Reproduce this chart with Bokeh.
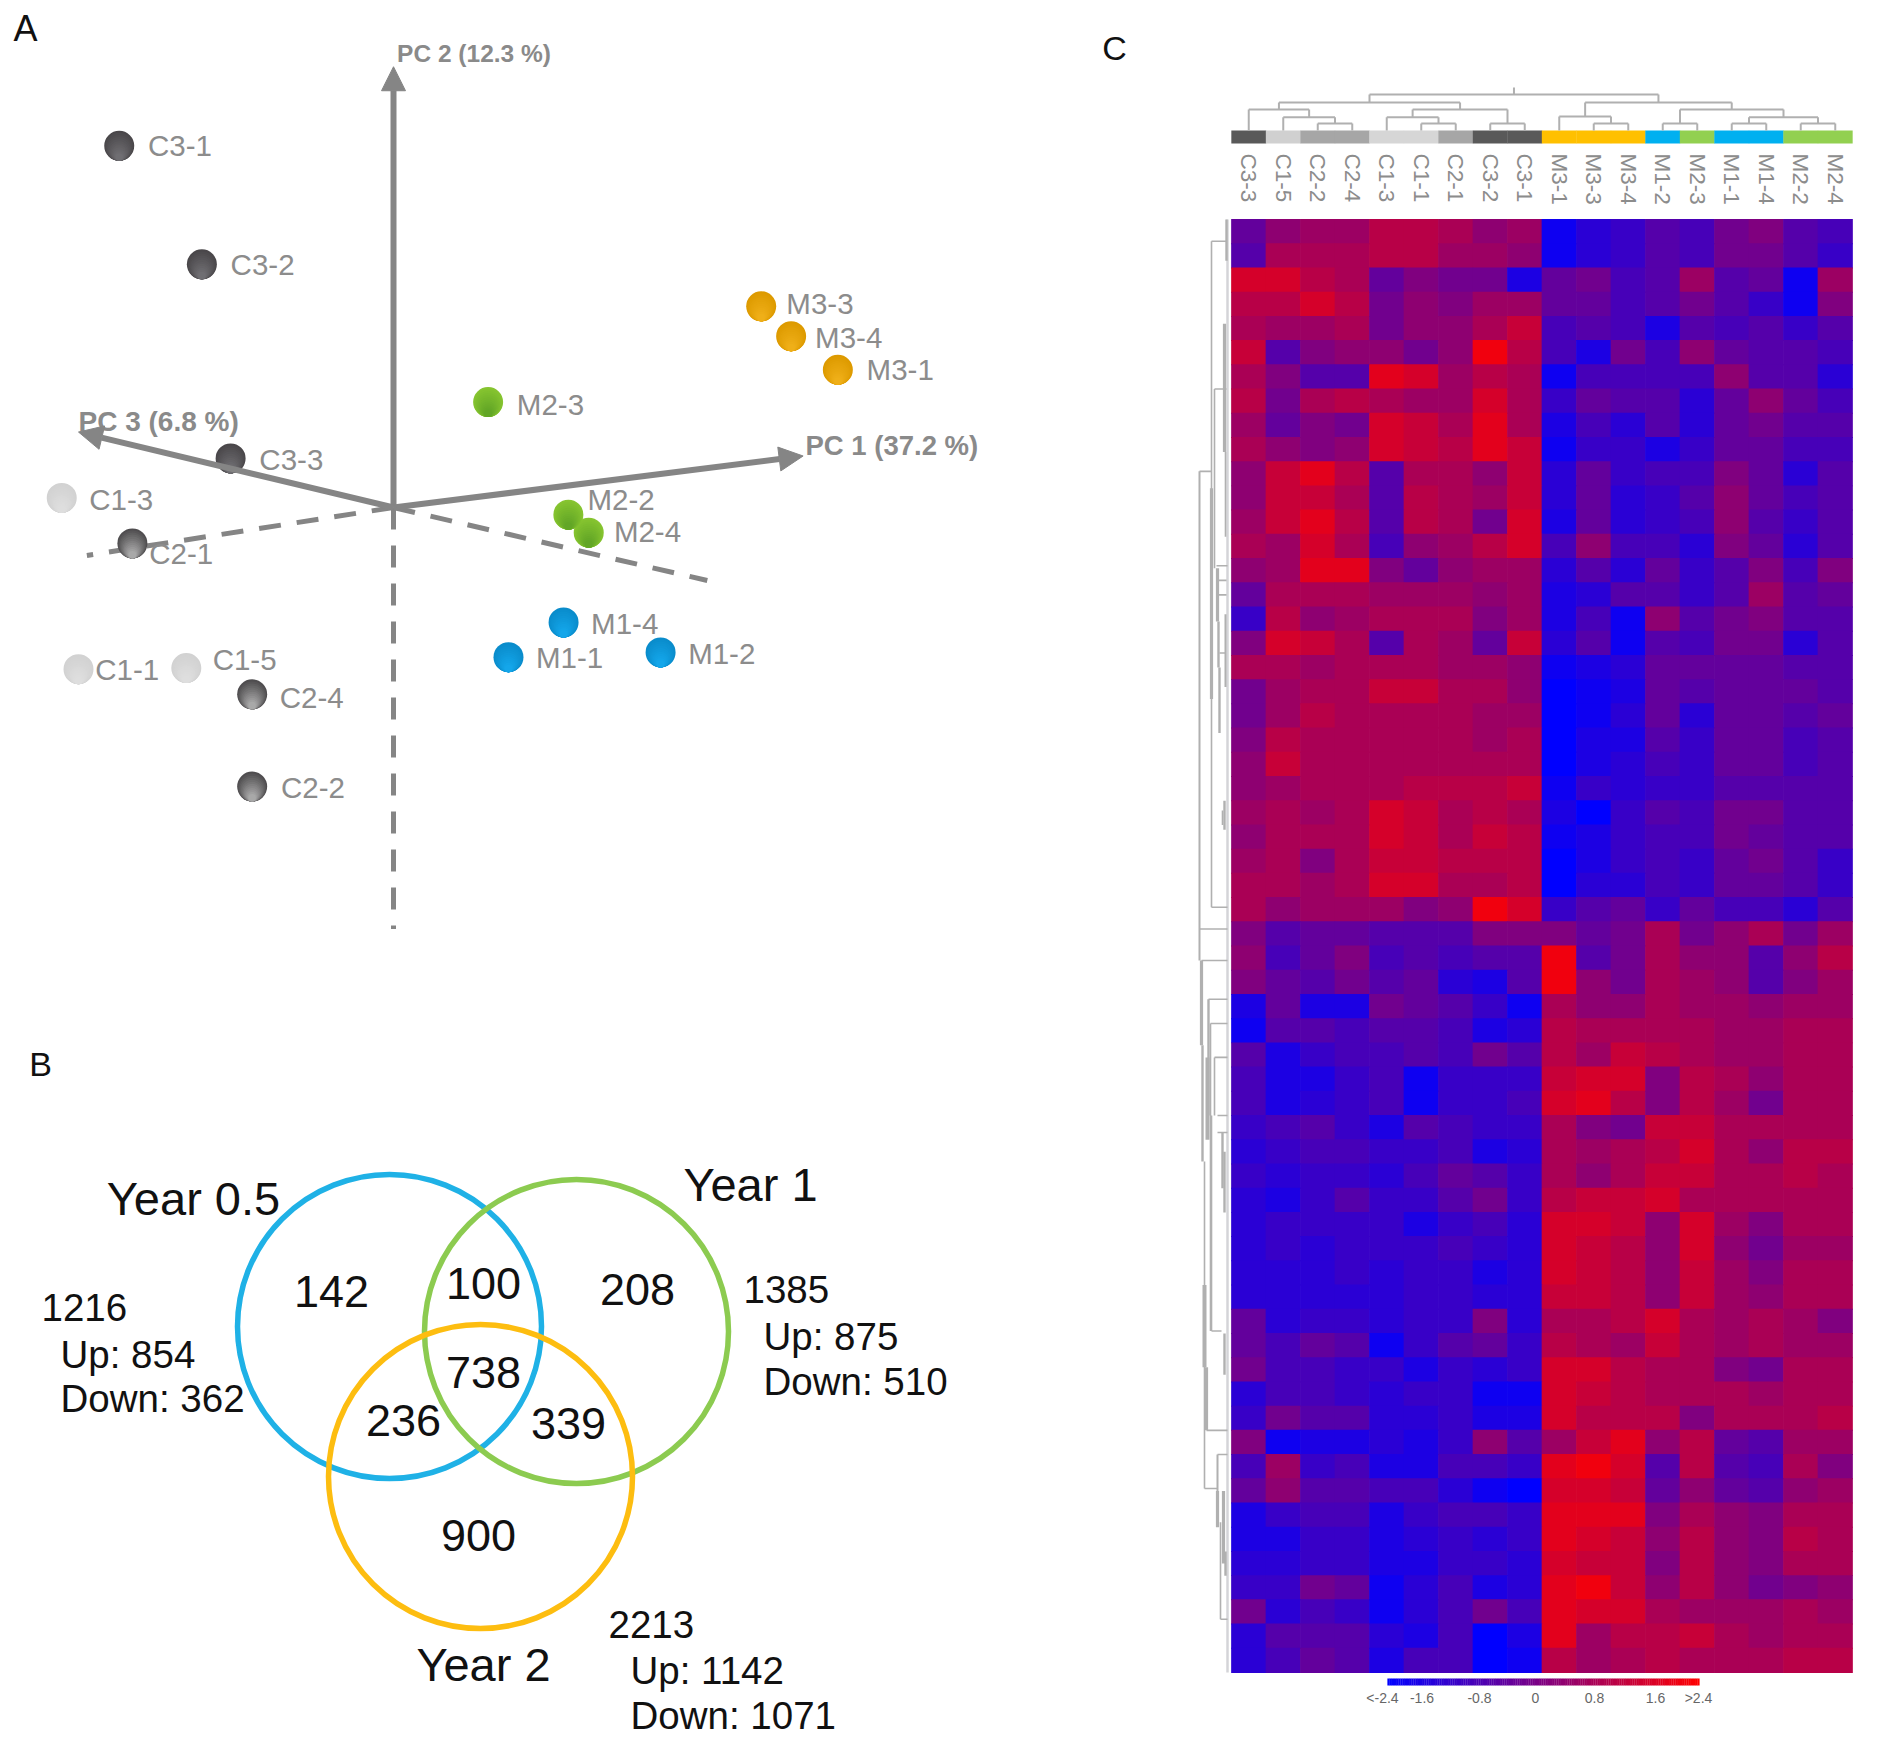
from math import pi
from bokeh.core.properties import value
from bokeh.embed import file_html
from bokeh.layouts import column, row
from bokeh.models import Arrow, ColumnDataSource, LinearColorMapper, NormalHead, Range1d
from bokeh.plotting import figure
from bokeh.resources import INLINE
from bokeh.transform import transform

FONT = value("Liberation Sans")

# ---------- panel A data ----------
pca_names = ["C3-1","C3-2","M3-3","M3-4","M3-1","M2-3","C3-3","C1-3","C2-1","M2-2","M2-4","M1-4","M1-1","M1-2","C1-1","C1-5","C2-4","C2-2"]
pca_x = [-22.9,-16.0,30.7,33.2,37.1,7.9,-13.6,-27.7,-21.8,14.6,16.3,14.2,9.6,22.3,-26.3,-17.3,-11.8,-11.8]
pca_y = [30.2,20.3,16.8,14.3,11.5,8.8,4.1,0.8,-3.0,-0.6,-2.1,-9.6,-12.5,-12.1,-13.5,-13.4,-15.6,-23.3]
pca_label_x = [-20.5,-13.6,32.8,35.2,39.5,10.3,-11.2,-25.4,-20.4,16.2,18.4,16.5,11.9,24.6,-24.9,-15.1,-9.5,-9.4]
pca_label_y = [30.2,20.3,17.0,14.2,11.5,8.6,4.0,0.7,-3.8,0.7,-2.0,-9.7,-12.5,-12.2,-13.5,-12.7,-15.9,-23.4]
axis_names = ["PC 1 (37.2 %)","PC 2 (12.3 %)","PC 3 (6.8 %)"]
axis_tip_x = [34.2,0.0,-26.3]
axis_tip_y = [4.3,36.8,6.3]
axis_label_x = [34.4,0.3,-26.3]
axis_label_y = [5.2,37.9,7.2]
axis_back_x = [-25.6,0.0,26.2]
axis_back_y = [-4.0,-35.2,-6.1]
sphere_top = {"C3":"#4a474a","C2":"#4f4d4f","C1":"#d2d2d2","M3":"#dd9a00","M2":"#86c430","M1":"#0a8ccb"}
sphere_bottom = {"C3":"#6f6e72","C2":"#a8a8a8","C1":"#dedede","M3":"#efaf18","M2":"#62a626","M1":"#14a6ea"}

# ---------- panel B data ----------
venn_names = ["Year 0.5","Year 1","Year 2"]
venn_colors = ["#1fb1e6","#8ccb50","#fdbd10"]
venn_counts = ["142","100","208","738","236","339","900"]
venn_notes = ["1216","Up: 854","Down: 362","1385","Up: 875","Down: 510","2213","Up: 1142","Down: 1071"]

# ---------- panel C data ----------
heat_columns = ["C3-3","C1-5","C2-2","C2-4","C1-3","C1-1","C2-1","C3-2","C3-1","M3-1","M3-3","M3-4","M1-2","M2-3","M1-1","M1-4","M2-2","M2-4"]
strip_colors = ["#595959","#d0d0d0","#a6a6a6","#a6a6a6","#d6d6d6","#d6d6d6","#a6a6a6","#595959","#595959","#ffc000","#ffc000","#ffc000","#00b0f0","#92d050","#00b0f0","#00b0f0","#92d050","#92d050"]
heat_rows = [
 [-2,1,2,2,4,4,3,1,2,-8,-6,-5,-3,-4,-1,0,-3,-4],
 [-3,3,3,3,4,4,2,2,1,-8,-6,-5,-3,-4,-1,-1,-3,-5],
 [6,6,4,3,-2,0,-1,-1,-7,-2,-1,-4,-3,2,-3,-2,-8,2],
 [4,4,6,4,-1,1,0,2,2,-2,-2,-4,-3,-1,-3,-5,-8,0],
 [3,2,2,3,-1,1,1,3,5,-4,-3,-4,-7,-3,-4,-3,-5,-3],
 [5,-3,0,1,1,-1,1,8,4,-4,-7,-1,-4,1,-2,-3,-3,-4],
 [3,0,-3,-3,7,6,2,4,3,-8,-4,-4,-4,-4,1,-3,-3,-6],
 [4,-1,3,4,3,2,2,6,3,-5,-2,-3,-3,-6,-2,1,-2,-4],
 [2,-2,0,-1,6,5,3,7,3,-7,-4,-6,-3,-6,-2,-1,-3,-3],
 [3,1,0,1,6,5,4,7,5,-8,-5,-5,-7,-5,-2,-2,-4,-4],
 [1,5,7,4,-3,3,3,1,5,-6,-2,-5,-4,-4,0,-2,-6,-3],
 [1,5,5,3,-3,4,3,2,5,-6,-2,-6,-5,-3,1,-2,-4,-3],
 [2,5,7,4,-3,4,3,-1,6,-7,-2,-6,-5,-4,1,-3,-5,-3],
 [3,2,6,3,-4,1,2,4,6,-4,1,-4,-4,-6,0,-2,-6,-3],
 [1,2,7,7,0,-2,1,2,2,-6,-3,-6,-2,-5,-3,0,-4,0],
 [-2,3,3,3,2,2,2,1,2,-7,-6,-3,-3,-5,-3,2,-3,-2],
 [-5,4,1,2,3,3,3,0,2,-7,-4,-8,1,-3,-1,0,-3,-3],
 [0,6,5,3,-3,3,2,-2,5,-6,-3,-8,-3,-4,-1,-1,-6,-3],
 [3,3,2,3,3,3,2,2,1,-8,-7,-6,-2,-2,-2,-2,-3,-3],
 [-1,2,3,3,5,5,3,3,1,-9,-8,-7,-2,-3,-2,-2,-2,-3],
 [-1,2,4,3,3,3,3,2,2,-9,-8,-6,-2,-6,-2,-2,-3,-2],
 [0,4,3,3,3,3,3,2,3,-9,-7,-7,-3,-5,-2,-2,-4,-3],
 [1,5,3,3,3,3,3,3,3,-9,-7,-6,-4,-5,-2,-2,-4,-3],
 [1,2,3,3,3,4,4,4,5,-8,-5,-6,-5,-5,-3,-3,-3,-3],
 [2,3,2,3,6,5,3,4,3,-7,-9,-5,-3,-4,-1,-1,-3,-3],
 [1,3,3,3,6,5,3,5,4,-8,-7,-5,-4,-4,-1,-2,-3,-3],
 [2,3,0,3,5,5,4,4,4,-9,-7,-5,-4,-5,-2,-1,-3,-5],
 [3,3,2,3,6,6,3,3,4,-9,-6,-6,-4,-5,-2,-2,-3,-5],
 [3,1,2,2,2,0,1,8,6,-5,-3,-2,-5,-2,-4,-4,-6,-3],
 [0,-3,-2,-2,-3,-3,-3,0,0,0,-2,-1,3,-1,1,3,-1,2],
 [1,-4,-2,0,-4,-3,-4,-3,-3,8,-3,-1,3,1,1,-3,1,4],
 [0,-2,-3,-1,-3,-2,-6,-7,-3,8,1,-1,3,2,1,-3,0,2],
 [-7,-2,-7,-7,-1,-2,-3,-5,-8,3,1,1,3,2,2,1,2,2],
 [-8,-3,-3,-4,-3,-3,-4,-7,-6,4,3,3,3,3,2,2,3,3],
 [-3,-7,-5,-4,-4,-3,-4,-1,-3,4,2,5,4,3,2,2,3,3],
 [-4,-7,-7,-5,-4,-8,-5,-5,-5,5,6,6,0,4,3,1,3,3],
 [-4,-7,-6,-5,-4,-8,-5,-5,-4,6,7,4,0,4,2,-1,3,3],
 [-5,-4,-3,-5,-7,-3,-4,-5,-5,3,0,-1,5,5,3,3,3,3],
 [-6,-5,-4,-4,-5,-5,-4,-7,-6,3,2,3,4,6,3,1,4,4],
 [-5,-6,-5,-5,-6,-4,-2,-3,-5,3,1,3,5,5,3,3,4,3],
 [-6,-7,-5,-3,-5,-5,-3,-1,-5,4,5,5,6,3,3,3,3,3],
 [-6,-5,-5,-5,-5,-7,-5,-4,-6,6,6,5,1,6,2,0,3,3],
 [-6,-5,-6,-5,-5,-5,-4,-5,-6,6,5,4,1,6,1,-1,2,2],
 [-6,-6,-6,-5,-6,-5,-5,-7,-6,6,5,4,1,5,2,0,3,3],
 [-6,-6,-6,-6,-6,-5,-5,-6,-6,5,5,4,1,5,2,1,3,3],
 [-2,-6,-5,-5,-6,-5,-5,0,-6,3,3,4,6,3,2,3,2,0],
 [-2,-4,-2,-3,-8,-5,-3,-2,-5,4,3,2,5,3,2,3,2,2],
 [-1,-4,-4,-5,-5,-7,-5,-6,-5,6,6,4,3,3,0,-1,3,3],
 [-6,-4,-4,-5,-6,-5,-5,-8,-8,6,5,4,3,3,3,2,3,3],
 [-5,-1,-3,-3,-6,-6,-5,-7,-7,6,4,4,4,0,3,3,3,4],
 [0,-8,-7,-7,-6,-7,-5,1,-3,2,5,7,1,4,-2,-3,2,2],
 [-4,2,-5,-4,-7,-7,-4,-4,-5,7,8,6,-3,4,-3,-4,3,0],
 [-2,1,-3,-3,-4,-4,-6,-8,-9,6,6,5,-2,1,-2,-3,1,2],
 [-7,-5,-4,-4,-7,-5,-4,-4,-5,7,7,7,0,3,1,0,3,3],
 [-7,-7,-5,-5,-7,-6,-5,-6,-5,7,6,5,1,4,1,0,4,3],
 [-6,-6,-5,-5,-7,-7,-5,-5,-6,6,5,5,0,4,1,0,3,3],
 [-5,-5,-1,-2,-8,-6,-4,-7,-6,7,8,5,1,4,1,-1,0,1],
 [-1,-6,-4,-5,-8,-6,-4,-1,-4,7,6,6,3,2,2,2,3,2],
 [-6,-3,-3,-3,-6,-7,-4,-9,-7,7,2,4,4,5,3,2,3,3],
 [-6,-4,-2,-3,-7,-4,-4,-9,-8,4,2,3,4,3,3,3,4,4],
]
legend_labels = ["<-2.4","-1.6","-0.8","0","0.8","1.6",">2.4"]
legend_steps = [-9,-8,-7,-6,-5,-4,-3,-2,-1,0,1,2,3,4,5,6,7,8,9]

# column tree: (child, child, height)
col_merges = {
 "a":(2,3,7),"b":(1,"a",13.3),"c":(0,"b",21),"d":(5,6,7),"e":(4,"d",13.3),"f":(7,8,7),
 "g":("e","f",21),"h":("c","g",28),"i":(10,11,7),"j":(9,"i",14),"k":(12,13,7),"l":(14,15,7),
 "m":(16,17,7),"n":("l","m",13.3),"o":("k","n",21),"p":("j","o",28),"q":("h","p",36),
}
col_tree_root = 43

# row tree: vertical strokes (height, from row, to row, weight) and horizontal strokes (row, from height, to height)
row_tree_v = [
 (5,0,1.7,3),(20,0.9,28.4,2),(20,11.1,19.8,4),(17,7,14.4,2),(7,4.3,9.6,4),(6,9.6,13.1,2),
 (32,10.4,30.6,2.5),(14,14.4,16.6,4),(13,16.6,18.5,3),(12,18.5,21.2,3),(6,16.3,19.3,2.5),
 (7,24,25.2,3),(9,24.4,25,2),(30,30.6,34.1,4),(29,34.1,38.9,3),(23,32.2,37,3),(21,33.2,45.9,2),
 (17,34.6,37,2),(20,37,45.9,2),(27,38.9,52.4,2),(27,44,47.4,5),(25,47.4,50,4),(14,51,53.8,2.5),
 (11,53.8,57.8,2),(7,38.5,41,3),(9,37.7,40,3),(7,46,47.7,3),(8,52.5,55.5,4),(6,55,56,3),
 (24,34.6,38,5),(14,52.5,54,4),
]
row_tree_h = [
 (0.9,20,5),(7,17,5),(10.4,32,20),(14.3,15,4),(14.9,13,5),(15.5,13,5),(17.9,12,6),(28.4,20,4),
 (29.3,32,4),(30.6,30,4),(32.2,23,4),(33.2,21,4),(34.6,17,4),(37,14,4),(37.7,14,4),(45.9,20,10),
 (50,25,4),(51,14,4),(52.4,27,14),(57.8,11,4),
]

# ---------- helpers ----------
def make_fig(w, h, xr, yr):
    p = figure(width=w, height=h, x_range=Range1d(*xr), y_range=Range1d(*yr),
               output_backend="svg", toolbar_location=None, min_border=0)
    p.axis.visible = False
    p.grid.visible = False
    p.outline_line_color = None
    return p

def blend(c0, c1, t):
    a = [int(c0[i:i+2], 16) for i in (1, 3, 5)]
    b = [int(c1[i:i+2], 16) for i in (1, 3, 5)]
    return "#%02x%02x%02x" % tuple(round(u + (v - u) * t) for u, v in zip(a, b))

def put_text(p, xs, ys, texts, size, color, align="left", style="normal", angle=0.0):
    p.text(xs, ys, text=texts, text_font=FONT, text_font_size=f"{size}px", text_color=color,
           text_align=align, text_baseline="middle", text_font_style=style, angle=angle)

# ---------- panel A ----------
U = 11.977
OX, OY = 393, 507
pa = make_fig(1060, 1000, ((0 - OX) / U, (1060 - OX) / U), ((OY - 1000) / U, (OY - 0) / U))
GR = "#858585"
for bx, by in zip(axis_back_x, axis_back_y):
    pa.line([0, bx], [0, by], line_color=GR, line_width=5, line_dash="22 16")
for tx, ty in zip(axis_tip_x, axis_tip_y):
    pa.add_layout(Arrow(end=NormalHead(size=24, fill_color=GR, line_color=GR), x_start=0, y_start=0,
                        x_end=tx, y_end=ty, line_color=GR, line_width=6))
for ax_x, ax_y, ax_name, ax_size in zip(axis_label_x, axis_label_y, axis_names, (27.5, 24.5, 28)):
    put_text(pa, [ax_x], [ax_y], [ax_name], ax_size, "#8a8a8a", style="bold")
shade_steps = 12
for k in range(shade_steps):
    t = k / (shade_steps - 1)
    shrink = 0.75 * t
    r_units = 15 / U
    colors = [blend(sphere_top[n[:2]], sphere_bottom[n[:2]], t) for n in pca_names]
    pa.scatter(pca_x, [v - r_units * shrink for v in pca_y], size=30 * (1 - shrink), color=colors, line_color=None)
put_text(pa, pca_label_x, pca_label_y, pca_names, 29.5, "#8c8c8c")
put_text(pa, [(25 - OX) / U], [(OY - 28) / U], ["A"], 36, "#111111", align="center")

# ---------- panel B ----------
pb = make_fig(1060, 741, (0, 1060), (1741, 1000))
venn_cx, venn_cy, venn_r = [389, 576, 480], [1326, 1331, 1476], 152
pb.circle(venn_cx, venn_cy, radius=venn_r, fill_color=None, line_color=venn_colors, line_width=5.5)
put_text(pb, [193, 750, 483], [1198, 1184, 1664], venn_names, 47, "#111111", align="center")
put_text(pb, [331, 483, 637, 483, 403, 568, 478], [1291, 1283, 1289, 1372, 1420, 1423, 1535], venn_counts, 45, "#111111", align="center")
put_text(pb, [41, 60, 60, 743, 763, 763, 608, 630, 630], [1307, 1354, 1398, 1289, 1336, 1381, 1624, 1670, 1715], venn_notes, 38.5, "#111111")
put_text(pb, [40], [1063], ["B"], 34, "#111111", align="center")

# ---------- panel C ----------
L, T, CW, RH = 1231, 219, 621 / 18, 1453 / 60
cx = lambda px: (px - L) / CW
cy = lambda py: (py - T) / RH
pc = make_fig(810, 1741, (cx(1060), cx(1870)), (cy(1741), cy(0)))
mapper = LinearColorMapper(palette=[blend("#0000ff", "#ff0000", i / 255) for i in range(256)], low=-9, high=9)
hx, hy, hv = [], [], []
for i, vals in enumerate(heat_rows):
    for j, v in enumerate(vals):
        hx.append(j + 0.5); hy.append(i + 0.5); hv.append(v)
pc.rect("x", "y", width=1.02, height=1.04, source=ColumnDataSource(dict(x=hx, y=hy, v=hv)),
        fill_color=transform("v", mapper), line_color=None)

# colour strip and column names
xs = [j + 0.5 for j in range(len(heat_columns))]
strip_mid = cy(136.5)
pc.rect(xs, [strip_mid] * len(xs), width=1.01, height=13 / RH, fill_color=strip_colors, line_color=None)
put_text(pc, xs, [cy(153)] * len(xs), heat_columns, 22.5, "#8c8c8c", angle=-pi / 2)

# column tree
TREE = "#b0b0b0"
strip_top = 130
hy_col = lambda h: cy(strip_top - h)
node_pos = {}
def pos(n):
    return (n + 0.5, 0) if isinstance(n, int) else node_pos[n]
seg_x0, seg_y0, seg_x1, seg_y1 = [], [], [], []
for name, (a, b, h) in col_merges.items():
    ax, ah = pos(a); bx, bh = pos(b)
    seg_x0 += [ax, bx, ax]; seg_y0 += [hy_col(ah), hy_col(bh), hy_col(h)]
    seg_x1 += [ax, bx, bx]; seg_y1 += [hy_col(h), hy_col(h), hy_col(h)]
    node_pos[name] = ((ax + bx) / 2, h)
rx, rh = node_pos["q"]
seg_x0.append(rx); seg_y0.append(hy_col(rh)); seg_x1.append(rx); seg_y1.append(hy_col(col_tree_root))
pc.segment(seg_x0, seg_y0, seg_x1, seg_y1, line_color=TREE, line_width=2)

# row tree
hxp = lambda d: cx(L - d)
pc.segment([hxp(4)], [0], [hxp(4)], [len(heat_rows)], line_color="#d4d4d8", line_width=2.5)
pc.segment([hxp(h) for h, _, _, _ in row_tree_v], [a for _, a, _, _ in row_tree_v],
           [hxp(h) for h, _, _, _ in row_tree_v], [b for _, _, b, _ in row_tree_v],
           line_color=TREE, line_width=[w * 0.8 for *_, w in row_tree_v])
pc.segment([hxp(a) for _, a, _ in row_tree_h], [r for r, _, _ in row_tree_h],
           [hxp(b) for _, _, b in row_tree_h], [r for r, _, _ in row_tree_h],
           line_color=TREE, line_width=1.6)

# colour legend
bar_l, bar_r = cx(1387), cx(1699)
n_steps = len(legend_steps) - 1
sub = 8
lx, lw, lv = [], (bar_r - bar_l) / (n_steps * sub), []
for i in range(n_steps):
    for k in range(sub):
        lx.append(bar_l + (i * sub + k + 0.5) * lw)
        lv.append(legend_steps[i] + (legend_steps[i + 1] - legend_steps[i]) * (k + 0.5) / sub)
pc.rect("x", "y", width=lw * 1.1, height=7 / RH,
        source=ColumnDataSource(dict(x=lx, y=[cy(1681.5)] * len(lx), v=lv)),
        fill_color=transform("v", mapper), line_color=None)
put_text(pc, [cx(p) for p in (1382, 1421.5, 1479, 1535, 1594, 1655, 1698)], [cy(1697)] * 7,
         legend_labels, 14, "#666666", align="center")
put_text(pc, [cx(1114)], [cy(47)], ["C"], 34, "#111111", align="center")

layout = row(column(pa, pb), pc)
open("out.html", "w").write(file_html(layout, INLINE))
